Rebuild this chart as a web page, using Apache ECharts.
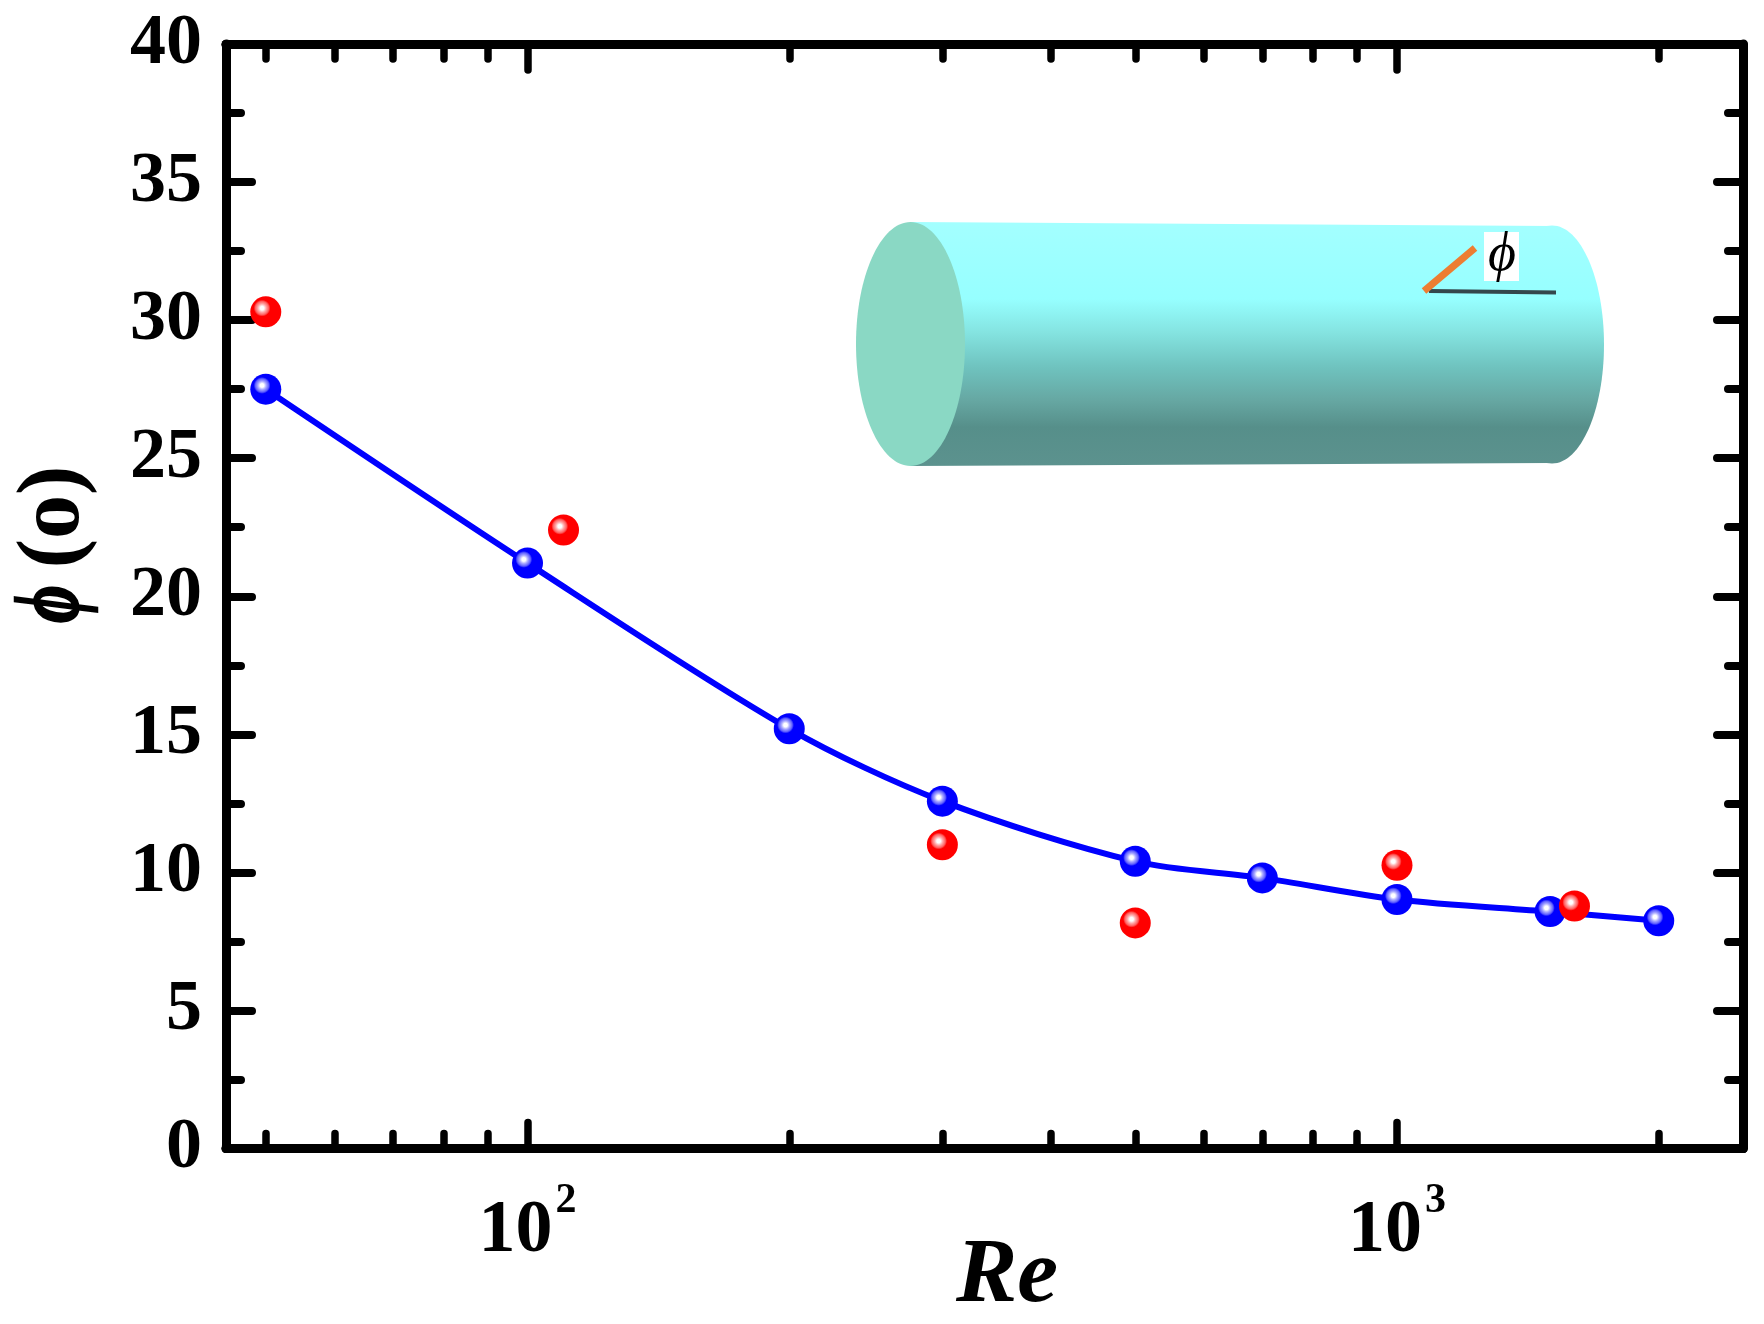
<!DOCTYPE html>
<html>

<head>
  <meta charset="utf-8">
  <title>Re vs phi</title>
  <script src="https://cdn.jsdelivr.net/npm/echarts@6/dist/echarts.min.js"></script>
  <style>
    html, body { margin: 0; padding: 0; background: #fff; }
  </style>
</head>

<body>
  <div id="main" style="width:1764px;height:1324px"></div>
  <script type="text/javascript">
    var simRe = [50, 100, 200, 300, 500, 700, 1000, 1500, 2000];
    var simPhi = [27.5, 21.2, 15.2, 12.58, 10.4, 9.8, 9.02, 8.58, 8.25];
    var expRe = [50, 110, 300, 500, 1000, 1600];
    var expPhi = [30.3, 22.4, 11.0, 8.17, 10.26, 8.78];
    var xMajorTicks = [100, 1000];
    var xMinorTicks = [50, 60, 70, 80, 90, 200, 300, 400, 500, 600, 700, 800, 900, 2000];
    var xMin = 45, xMax = 2500;

    var serif = '"Liberation Serif"';
    var myChart = echarts.init(document.getElementById('main'));

    function pairs(xs, ys) {
      return xs.map(function (x, i) { return [x, ys[i]]; });
    }

    function ball(color, mid, rim) {
      return {
        type: 'radial', x: 0.38, y: 0.38, r: 0.27,
        colorStops: [
          { offset: 0, color: '#ffffff' },
          { offset: 0.22, color: '#ffffff' },
          { offset: 0.5, color: mid },
          { offset: 0.8, color: rim },
          { offset: 1, color: color }
        ]
      };
    }

    function xAxisAt(position, values, len, withLabels) {
      return {
        type: 'log', logBase: 10, min: xMin, max: xMax, position: position,
        axisLine: { show: true, onZero: false, lineStyle: { color: '#000', width: 9 } },
        axisTick: { show: true, inside: true, length: len, customValues: values, lineStyle: { color: '#000', width: 7.5, cap: 'round' } },
        axisLabel: withLabels ? {
          show: true, customValues: values, margin: 32, color: '#000',
          formatter: function (v) {
            return '{b|10}{s|' + Math.round(Math.log10(v)) + '}';
          },
          rich: {
            b: { fontFamily: serif, fontWeight: 'bold', fontSize: 74, color: '#000' },
            s: { fontFamily: serif, fontWeight: 'bold', fontSize: 42, color: '#000', padding: [0, 0, 60, 3] }
          }
        } : { show: false },
        splitLine: { show: false }
      };
    }

    function yAxisAt(position, withLabels) {
      return {
        type: 'value', min: 0, max: 40, interval: 5, position: position,
        axisLine: { show: true, onZero: false, lineStyle: { color: '#000', width: 9 } },
        axisTick: { show: true, inside: true, length: 26, lineStyle: { color: '#000', width: 8, cap: 'round' } },
        minorTick: { show: true, splitNumber: 2, length: 15, lineStyle: { color: '#000', width: 8, cap: 'round' } },
        axisLabel: withLabels ? { show: true, margin: 24, color: '#000', fontFamily: serif, fontWeight: 'bold', fontSize: 72, padding: [0, 0, 4, 0] } : { show: false },
        splitLine: { show: false }
      };
    }

    var xAxes = [
      xAxisAt('bottom', xMajorTicks, 26, true),
      xAxisAt('bottom', xMinorTicks, 15, false),
      xAxisAt('top', xMajorTicks, 26, false),
      xAxisAt('top', xMinorTicks, 15, false)
    ];
    var yAxes = [yAxisAt('left', true), yAxisAt('right', false)];

    var bodyFill = {
      type: 'linear', x: 0, y: 224, x2: 0, y2: 466, global: true,
      colorStops: [
        { offset: 0, color: '#a3ffff' }, { offset: 0.31, color: '#96ffff' },
        { offset: 0.45, color: '#84e3e0' }, { offset: 0.59, color: '#6fc3bf' },
        { offset: 0.73, color: '#66a7a2' }, { offset: 0.84, color: '#568f8a' },
        { offset: 1, color: '#5c928e' }
      ]
    };

    var option = {
      backgroundColor: '#fff',
      animation: false,
      grid: { left: 226, top: 44, width: 1517, height: 1104.5 },
      xAxis: xAxes,
      yAxis: yAxes,
      series: [
        {
          type: 'line', name: 'sim', data: pairs(simRe, simPhi), smooth: 0.3, z: 5,
          symbol: 'circle', symbolSize: 31,
          lineStyle: { color: '#0000ff', width: 6 },
          itemStyle: { color: ball('#0000ff', '#a8a8ff', '#6060ff') }
        },
        {
          type: 'scatter', name: 'exp', data: pairs(expRe, expPhi), z: 6,
          symbol: 'circle', symbolSize: 31,
          itemStyle: { color: ball('#ff0000', '#ffa8a8', '#ff6060'), opacity: 1 }
        }
      ],
      graphic: [
        { type: 'ellipse', z: 1, shape: { cx: 1552, cy: 344.5, rx: 52, ry: 119 }, style: { fill: bodyFill } },
        { type: 'polygon', z: 1, shape: { points: [[910, 222], [1552, 226], [1552, 463], [910, 466]] }, style: { fill: bodyFill } },
        { type: 'ellipse', z: 2, shape: { cx: 910.5, cy: 344, rx: 54.5, ry: 122 }, style: { fill: '#8ad8c4' } },
        { type: 'line', z: 2, shape: { x1: 1429, y1: 291, x2: 1556, y2: 292.5 }, style: { stroke: '#34474c', lineWidth: 4 } },
        { type: 'line', z: 3, shape: { x1: 1424, y1: 291, x2: 1475, y2: 248 }, style: { stroke: '#ed7d31', lineWidth: 7 } },
        { type: 'rect', z: 2, shape: { x: 1484, y: 232, width: 35, height: 49 }, style: { fill: '#fff' } },
        { type: 'text', z: 3, x: 1502, y: 256, style: { text: 'ϕ', fill: '#000', font: 'italic 54px ' + serif, textAlign: 'center', textVerticalAlign: 'middle' } },
        { type: 'text', z: 3, x: 1007, y: 1277, style: { text: 'Re', fill: '#000', font: 'italic bold 92px ' + serif, textAlign: 'center', textVerticalAlign: 'middle' } },
        {
          type: 'text', z: 3, x: 55, y: 517, rotation: Math.PI / 2,
          style: { text: '(o)', fill: '#000', font: 'bold 88px ' + serif, textAlign: 'center', textVerticalAlign: 'middle' }
        },
        {
          type: 'text', z: 3, x: 55, y: 604, rotation: Math.PI / 2, scaleX: 0.72,
          style: { text: 'ϕ', fill: '#000', stroke: '#000', lineWidth: 2.5, font: 'italic bold 90px ' + serif, textAlign: 'center', textVerticalAlign: 'middle' }
        }
      ]
    };

    myChart.setOption(option);
  </script>
</body>

</html>
